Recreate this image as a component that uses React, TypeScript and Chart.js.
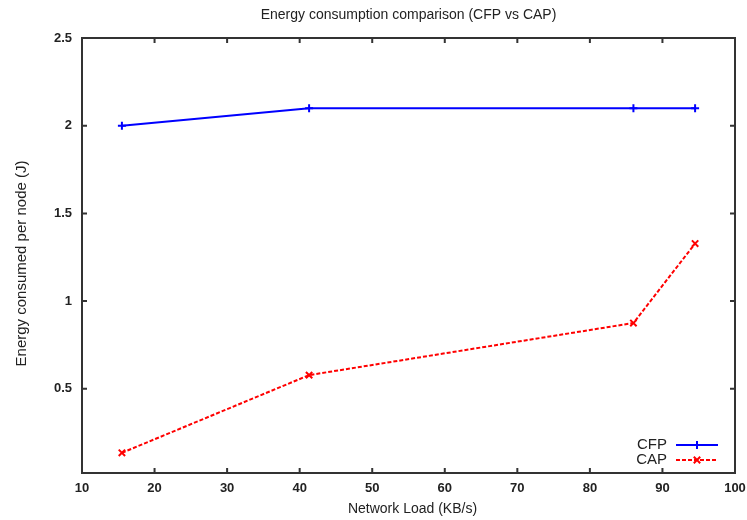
import React, { useEffect, useRef } from "react";
import { Chart, registerables } from "chart.js";

Chart.register(...registerables);

const cfpX = [15.5, 41.3, 86.0, 94.5];
const cfpY = [2.0, 2.1, 2.1, 2.1];
const capX = [15.5, 41.3, 86.0, 94.5];
const capY = [0.135, 0.578, 0.875, 1.328];
const xTicks = [10, 20, 30, 40, 50, 60, 70, 80, 90, 100];
const yTicks = [0.5, 1, 1.5, 2, 2.5];
const seriesNames = ["CFP", "CAP"];
const titleText = "Energy consumption comparison (CFP vs CAP)";
const xTitle = "Network Load (KB/s)";
const yTitle = "Energy consumed per node (J)";

const FONT = "'Liberation Sans', Arial, sans-serif";

const framePlugin = {
  id: "frame",
  afterDraw(chart: any) {
    const { ctx, chartArea: a, scales } = chart;
    ctx.save();
    ctx.strokeStyle = "#333";
    ctx.lineWidth = 2;
    ctx.strokeRect(a.left, a.top, a.right - a.left, a.bottom - a.top);
    const tl = 5;
    ctx.beginPath();
    for (const v of xTicks) {
      const px = scales.x.getPixelForValue(v);
      ctx.moveTo(px, a.bottom);
      ctx.lineTo(px, a.bottom - tl);
      ctx.moveTo(px, a.top);
      ctx.lineTo(px, a.top + tl);
    }
    for (const v of yTicks) {
      const py = scales.y.getPixelForValue(v);
      ctx.moveTo(a.left, py);
      ctx.lineTo(a.left + tl, py);
      ctx.moveTo(a.right, py);
      ctx.lineTo(a.right - tl, py);
    }
    ctx.stroke();

    ctx.fillStyle = "#222";
    ctx.textAlign = "center";
    ctx.textBaseline = "middle";
    // title
    ctx.font = `14px ${FONT}`;
    ctx.fillText(titleText, (a.left + a.right) / 2, 15);
    // axis titles
    ctx.font = `14px ${FONT}`;
    ctx.fillText(xTitle, (a.left + a.right) / 2 + 4, 509);
    ctx.save();
    ctx.translate(22, (a.top + a.bottom) / 2 + 8);
    ctx.rotate(-Math.PI / 2);
    ctx.font = `15px ${FONT}`;
    ctx.fillText(yTitle, 0, 0);
    ctx.restore();

    // legend
    ctx.font = `15px ${FONT}`;
    const rows = [445, 460];
    chart.data.datasets.forEach((ds: any, i: number) => {
      const y = rows[i];
      ctx.fillStyle = "#222";
      ctx.textAlign = "right";
      ctx.fillText(ds.label, 667, y);
      ctx.strokeStyle = ds.borderColor;
      ctx.lineWidth = 2;
      ctx.setLineDash(ds.borderDash || []);
      ctx.beginPath();
      ctx.moveTo(676, y);
      ctx.lineTo(718, y);
      ctx.stroke();
      ctx.setLineDash([]);
      ctx.beginPath();
      const r = 4;
      const cx = 697;
      if (ds.pointStyle === "cross") {
        ctx.moveTo(cx - r, y);
        ctx.lineTo(cx + r, y);
        ctx.moveTo(cx, y - r);
        ctx.lineTo(cx, y + r);
      } else {
        ctx.moveTo(cx - r * 0.8, y - r * 0.8);
        ctx.lineTo(cx + r * 0.8, y + r * 0.8);
        ctx.moveTo(cx - r * 0.8, y + r * 0.8);
        ctx.lineTo(cx + r * 0.8, y - r * 0.8);
      }
      ctx.stroke();
    });
    ctx.restore();
  },
};

export default function App() {
  const ref = useRef<HTMLCanvasElement>(null);
  useEffect(() => {
    document.body.style.margin = "0";
    const chart = new Chart(ref.current!, {
      type: "line",
      data: {
        datasets: [
          {
            label: seriesNames[0],
            data: cfpX.map((x, i) => ({ x, y: cfpY[i] })),
            borderColor: "#0000ff",
            backgroundColor: "#0000ff",
            borderWidth: 2,
            pointStyle: "cross",
            pointRadius: 4,
            pointBorderWidth: 2,
            fill: false,
            tension: 0,
          },
          {
            label: seriesNames[1],
            data: capX.map((x, i) => ({ x, y: capY[i] })),
            borderColor: "#ff0000",
            backgroundColor: "#ff0000",
            borderWidth: 2,
            borderDash: [4, 2],
            pointStyle: "crossRot",
            pointRadius: 4.5,
            pointBorderWidth: 2,
            fill: false,
            tension: 0,
          },
        ],
      },
      options: {
        animation: false,
        responsive: false,
        layout: { padding: { top: 38, right: 12, left: 0, bottom: 0 } },
        plugins: { legend: { display: false }, title: { display: false }, tooltip: { enabled: false } },
        scales: {
          x: {
            type: "linear",
            min: 10,
            max: 100,
            afterBuildTicks: (s: any) => {
              s.ticks = xTicks.map((v) => ({ value: v }));
            },
            afterFit: (s: any) => {
              s.height = 47;
              s.paddingLeft = 0;
              s.paddingRight = 0;
            },
            grid: { display: false, drawTicks: false },
            border: { display: false },
            ticks: { padding: 8, color: "#222", font: { family: FONT, size: 13, weight: "bold" }, maxRotation: 0, callback: (v: any) => String(v) },
          },
          y: {
            type: "linear",
            min: 0.02,
            max: 2.5,
            afterBuildTicks: (s: any) => {
              s.ticks = yTicks.map((v) => ({ value: v }));
            },
            afterFit: (s: any) => {
              s.width = 82;
              s.paddingTop = 0;
              s.paddingBottom = 0;
            },
            grid: { display: false, drawTicks: false },
            border: { display: false },
            ticks: { padding: 10, color: "#222", font: { family: FONT, size: 13, weight: "bold" }, callback: (v: any) => String(v) },
          },
        },
      },
      plugins: [framePlugin],
    } as any);
    return () => chart.destroy();
  }, []);
  return <canvas ref={ref} width={747} height={520} style={{ display: "block" }} />;
}
